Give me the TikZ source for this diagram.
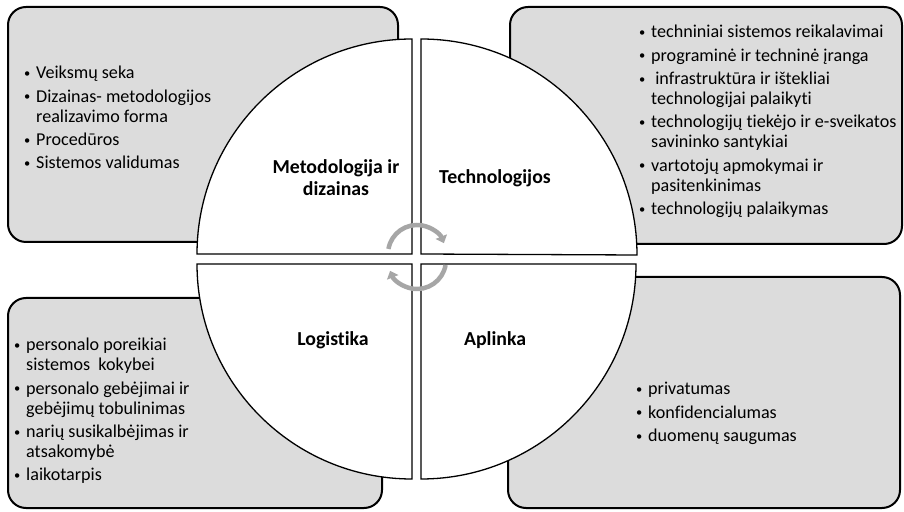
\documentclass[tikz,border=0pt]{standalone}
\usepackage{fontspec}
\setmainfont{Carlito}[Ligatures=NoCommon]
\usetikzlibrary{arrows.meta,calc}
\definecolor{boxgray}{HTML}{DCDCDC}
\definecolor{arrgray}{HTML}{A6A6A6}
\newcommand{\bul}{\makebox[13pt][l]{\hspace{1pt}\raisebox{1.4pt}{\fontsize{12.5}{12.5}\selectfont\textbullet}}}
\tikzset{
  infobox/.style={fill=boxgray, draw=black, line width=2pt, rounded corners=18pt},
  quad/.style={fill=white, draw=black, line width=1.3pt},
  cyc/.style={draw=arrgray, line width=4.5pt, -{Triangle[width=12pt,length=7pt]}},
  titletext/.style={font=\fontsize{19.8}{22}\selectfont\bfseries, align=center, inner sep=0pt},
  listtext/.style={font=\fontsize{18.1}{20}\selectfont, anchor=base west, inner sep=0pt}
}
\begin{document}
\begin{tikzpicture}[x=1pt,y=1pt]
\useasboundingbox (0,0) rectangle (904,511);
% info boxes
\draw[infobox] (8,269) rectangle (398,504);
\draw[infobox] (510,267) rectangle (902,504);
\draw[infobox] (8,3) rectangle (382,213);
\draw[infobox] (508,3) rectangle (900,234);
% quadrants
\path[quad] (412,257) -- (197,257) arc[start angle=180,end angle=90,radius=215] -- cycle;
\path[quad] (421,257) -- (421,472) arc[start angle=90,end angle=0,radius=216] -- cycle;
\path[quad] (412,247) -- (197,247) arc[start angle=180,end angle=270,radius=215] -- cycle;
\path[quad] (421,247) -- (636,247) arc[start angle=0,end angle=-90,radius=215] -- cycle;
% cycle arrows
\coordinate (c1) at (417,257);
\coordinate (c2) at (417,251);
\draw[cyc] ($(c1)+(170:29)$) arc[start angle=170,end angle=22,radius=29];
\draw[cyc] ($(c2)+(-10:29)$) arc[start angle=-10,end angle=-158,radius=29];
% titles
\node[titletext] (t1) at (336,333) {Metodologija ir\\dizainas};
\node[titletext] (t2) at (495,333) {Technologijos};
\node[titletext] (t3) at (333,171) {Logistika};
\node[titletext] (t4) at (495,171) {Aplinka};
% lists
\node[listtext] (l1) at (23,432) {\begin{tabular}[t]{@{}l@{}l@{}}
\bul & Veiksmų seka\\[3.3pt]
\bul & Dizainas- metodologijos\\
     & realizavimo forma\\[3.3pt]
\bul & Procedūros\\[3.3pt]
\bul & Sistemos validumas
\end{tabular}};
\node[listtext] (l2) at (638,473) {\begin{tabular}[t]{@{}l@{}l@{}}
\bul & techniniai sistemos reikalavimai\\[3.3pt]
\bul & programinė ir techninė įranga\\[3.3pt]
\bul & \ infrastruktūra ir ištekliai\\
     & technologijai palaikyti\\[3.3pt]
\bul & technologijų tiekėjo ir e-sveikatos\\
     & savininko santykiai\\[3.3pt]
\bul & vartotojų apmokymai ir\\
     & pasitenkinimas\\[3.3pt]
\bul & technologijų palaikymas
\end{tabular}};
\node[listtext] (l3) at (13,160) {\begin{tabular}[t]{@{}l@{}l@{}}
\bul & personalo poreikiai\\
     & sistemos~\ kokybei\\[3.3pt]
\bul & personalo gebėjimai ir\\
     & gebėjimų tobulinimas\\[3.3pt]
\bul & narių susikalbėjimas ir\\
     & atsakomybė\\[3.3pt]
\bul & laikotarpis
\end{tabular}};
\node[listtext] (l4) at (635,116) {\begin{tabular}[t]{@{}l@{}l@{}}
\bul & privatumas\\[3.3pt]
\bul & konfidencialumas\\[3.3pt]
\bul & duomenų saugumas
\end{tabular}};
\end{tikzpicture}
\end{document}
